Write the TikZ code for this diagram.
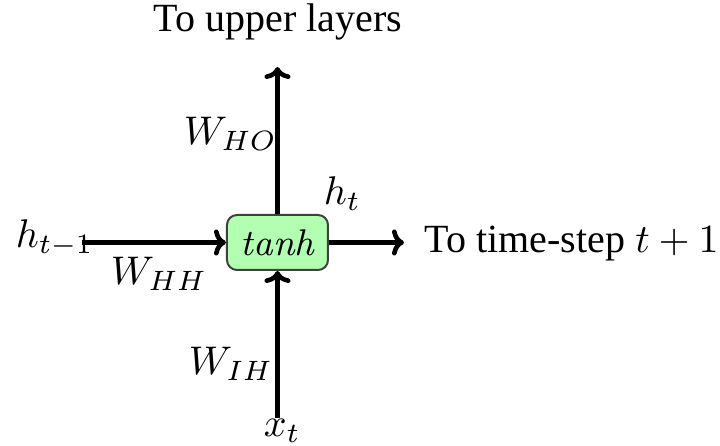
\documentclass[tikz,border=0pt]{standalone}
\usepackage{fontspec}
\setmainfont{Liberation Serif}
\newfontfamily\lmroman{Latin Modern Roman}
\usetikzlibrary{arrows.meta}
\begin{document}
\begin{tikzpicture}[x=0.25pt,y=-0.25pt,
  conn/.style={line width=1.15pt,-{To[width=6.5pt,length=3pt]}},
  lbl/.style={inner sep=0pt,font=\fontsize{10}{12}\selectfont},
  mlbl/.style={inner sep=0pt,font=\fontsize{9.6}{12}\selectfont},
  cell/.style={draw=black!75,fill=green!30,rounded corners=2.5pt,line width=0.5pt,
    minimum width=101*0.25pt,minimum height=55*0.25pt,inner sep=0pt,font=\fontsize{9.3}{12}\selectfont\lmroman\itshape}]
\useasboundingbox (0,0) rectangle (720,446);
\node[cell] (box) at (277.5,242.5) {tanh};
\coordinate (top) at (277.5,67);
\coordinate (bot) at (277.5,418);
\coordinate (left) at (82,242.5);
\coordinate (right) at (404,242.5);
\draw[conn] (box.north) -- (top);
\draw[conn] (bot) -- (box.south);
\draw[conn] (left) -- (box.west);
\draw[conn] (box.east) -- (right);
\node[lbl,anchor=base] (up) at (278,32) {To upper layers};
\node[lbl,anchor=base west] (next) at (424,253) {To time-step $t+1$};
\node[mlbl,anchor=base west] (hprev) at (15,248) {$h_{t-1}$};
\node[mlbl,anchor=base west] (whh) at (110,285) {$W_{HH}$};
\node[mlbl,anchor=base west] (who) at (183,145) {$W_{HO}$};
\node[mlbl,anchor=base west] (ht) at (323,205) {$h_t$};
\node[mlbl,anchor=base west] (wih) at (188,375) {$W_{IH}$};
\node[mlbl,anchor=base west] (xt) at (263,437) {$x_t$};
\end{tikzpicture}
\end{document}
